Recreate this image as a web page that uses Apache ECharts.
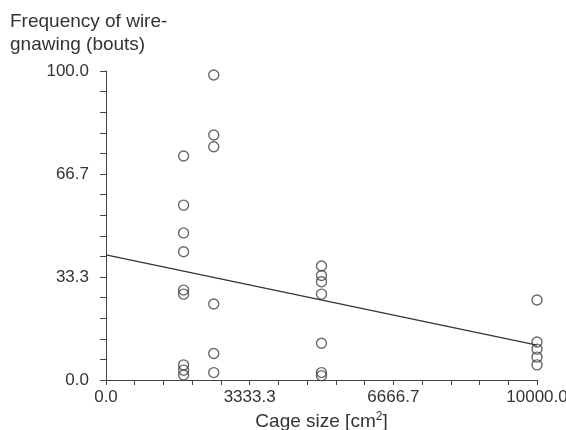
<!DOCTYPE html>
<html lang="en">
<head>
    <meta charset="UTF-8">
    <title>Wire-gnawing vs cage size</title>
    <script src="https://cdn.jsdelivr.net/npm/echarts@6/dist/echarts.min.js"></script>
    <style>
        html, body { margin: 0; padding: 0; background: #fff; }
        #chart { width: 566px; height: 430px; }
    </style>
</head>
<body>
    <div id="chart"></div>
    <script>
        // cage size [cm2] and gnawing bouts
        var cageSize = [
            1800, 1800, 1800, 1800, 1800, 1800, 1800, 1800, 1800,
            2500, 2500, 2500, 2500, 2500, 2500,
            5000, 5000, 5000, 5000, 5000, 5000, 5000,
            10000, 10000, 10000, 10000, 10000
        ];
        var bouts = [
            72.5, 56.6, 47.6, 41.5, 29.1, 27.8, 4.9, 3.2, 1.6,
            98.7, 79.3, 75.5, 24.6, 8.6, 2.4,
            36.9, 33.8, 31.8, 27.8, 11.9, 2.4, 1.4,
            25.9, 12.3, 10.0, 7.4, 4.9
        ];
        // regression line end points
        var fitX = [0, 10000];
        var fitY = [40.5, 11.3];

        var font = 'Liberation Sans, Arial, sans-serif';
        var ink = '#333';

        var points = cageSize.map(function (x, i) { return [x, bouts[i]]; });
        var fit = fitX.map(function (x, i) { return [x, fitY[i]]; });

        var fmt = function (v) { return (+v).toFixed(1); };

        var chart = echarts.init(document.getElementById('chart'));
        chart.setOption({
            animation: false,
            backgroundColor: '#fff',
            title: {
                text: 'Frequency of wire-\ngnawing (bouts)',
                left: 10,
                top: 10,
                padding: 0,
                textStyle: {
                    fontFamily: font,
                    fontSize: 19,
                    fontWeight: 'normal',
                    color: ink,
                    lineHeight: 23
                }
            },
            grid: { left: 106, right: 29, top: 71, bottom: 50, outerBoundsMode: 'none' },
            xAxis: {
                type: 'value',
                min: 0,
                max: 10000,
                interval: 10000 / 3,
                name: 'Cage size [cm{sup|2}]',
                nameLocation: 'middle',
                nameGap: 31,
                nameTextStyle: {
                    fontFamily: font,
                    fontSize: 19,
                    color: ink,
                    rich: {
                        sup: { fontFamily: font, fontSize: 12, color: ink, verticalAlign: 'top', padding: [0, 0, 10, 0] }
                    }
                },
                axisLine: { lineStyle: { color: '#444', width: 1 } },
                axisTick: { length: 5, lineStyle: { color: '#444' } },
                minorTick: { show: true, splitNumber: 5, length: 5, lineStyle: { color: '#444' } },
                splitLine: { show: false },
                axisLabel: {
                    formatter: fmt,
                    margin: 9,
                    fontFamily: font,
                    fontSize: 17,
                    color: ink
                }
            },
            yAxis: {
                type: 'value',
                min: 0,
                max: 100,
                interval: 100 / 3,
                axisLine: { show: true, lineStyle: { color: '#444', width: 1 } },
                axisTick: { show: true, length: 6, lineStyle: { color: '#444' } },
                minorTick: { show: true, splitNumber: 5, length: 6, lineStyle: { color: '#444' } },
                splitLine: { show: false },
                axisLabel: {
                    formatter: fmt,
                    margin: 17,
                    fontFamily: font,
                    fontSize: 17,
                    color: ink
                }
            },
            series: [
                {
                    type: 'line',
                    data: fit,
                    showSymbol: false,
                    lineStyle: { color: '#333', width: 1.2 },
                    silent: true
                },
                {
                    type: 'scatter',
                    data: points,
                    symbol: 'circle',
                    symbolSize: 10,
                    itemStyle: {
                        color: 'rgba(0,0,0,0)',
                        borderColor: '#444',
                        borderWidth: 1.4
                    }
                }
            ]
        });
    </script>
</body>
</html>
